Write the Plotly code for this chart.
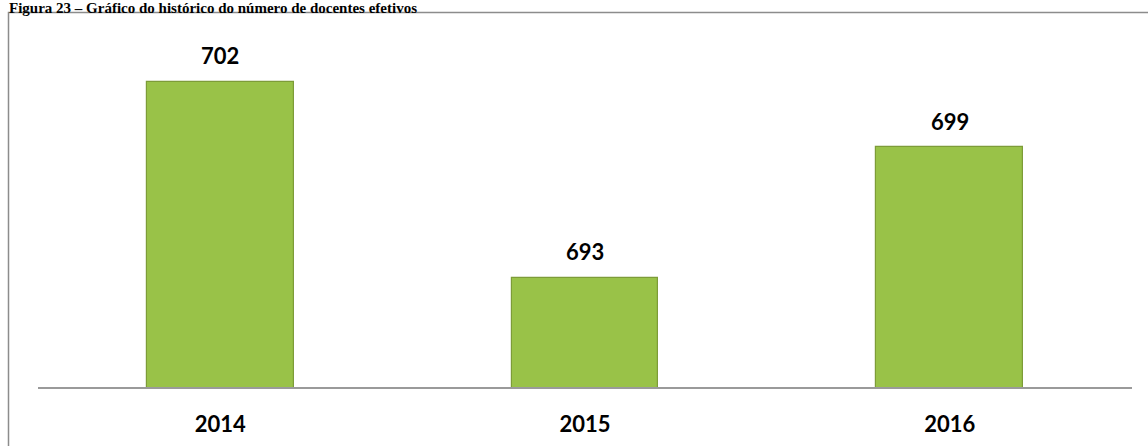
import plotly.graph_objects as go

years = ["2014", "2015", "2016"]
docentes = [702, 693, 699]

W, H = 1148, 446
ML, MR, MT, MB = 38, 16, 38, 59
pw = W - ML - MR
ph = H - MT - MB

fig = go.Figure()
fig.add_trace(go.Bar(
    x=years, y=docentes,
    marker=dict(color="#99c248", line=dict(color="#7d9c38", width=1.2)),
    width=0.403,
    hoverinfo="skip",
))

for i, v in enumerate(docentes):
    fig.add_annotation(
        x=i, y=v, text=str(v), showarrow=False,
        yanchor="middle", yshift=26,
        font=dict(family="Lato", size=22, color="#000000", weight="bold"),
    )

# page frame (cropped document box)
fig.add_shape(
    type="rect", xref="paper", yref="paper",
    x0=(8.5 - ML) / pw, x1=1.2,
    y0=-0.5, y1=(H - MB - 12.5) / ph,
    line=dict(color="#8c8c8c", width=1.5), layer="below",
)

# caption above the frame
fig.add_annotation(
    xref="paper", yref="paper",
    x=(7 - ML) / pw, y=(H - MB - 8) / ph,
    xanchor="left", yanchor="middle",
    text="Figura 23 – Gráfico do histórico do número de docentes efetivos",
    showarrow=False,
    font=dict(family="Liberation Serif", size=15, color="#000000", weight="bold"),
)

fig.update_layout(
    width=W, height=H,
    margin=dict(l=ML, r=MR, t=MT, b=MB, pad=0),
    paper_bgcolor="white", plot_bgcolor="white",
    showlegend=False,
    bargap=0,
)
fig.update_xaxes(
    type="category", range=[-0.5, len(years) - 0.5], automargin=False,
    showline=True, linecolor="#9a9a9a", linewidth=1.5,
    showgrid=False, zeroline=False,
    ticks="outside", ticklen=0, tickcolor="rgba(0,0,0,0)",
    ticklabelstandoff=17,
    tickfont=dict(family="Lato", size=22, color="#000000", weight="bold"),
)
fig.update_yaxes(
    range=[688, 704], visible=False, showgrid=False, zeroline=False,
    automargin=False,
)

fig.write_html(
    "out.html",
    config={"displayModeBar": False},
    post_script="document.body.style.margin='0';document.body.style.overflow='hidden';",
)
